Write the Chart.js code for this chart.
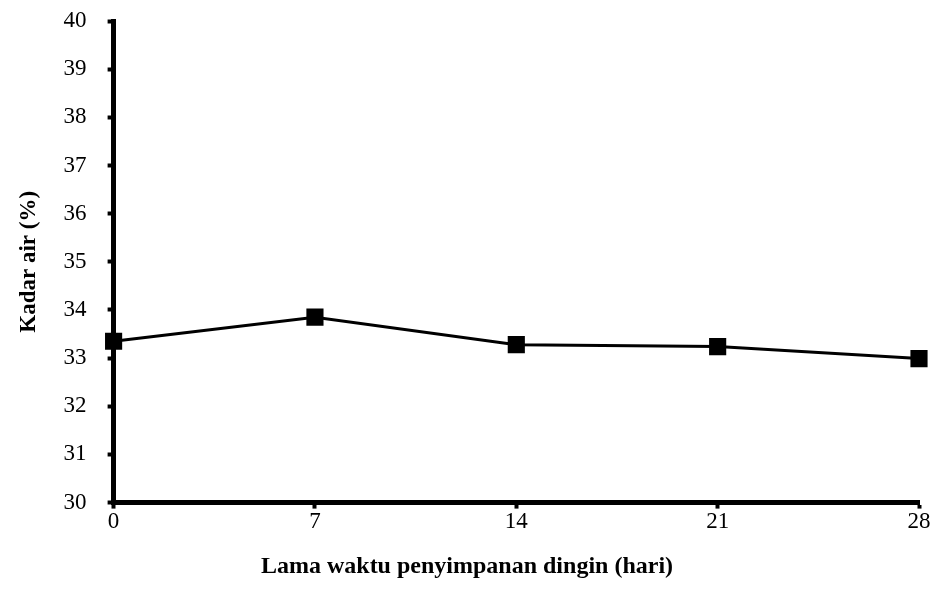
<!DOCTYPE html>
<html>
<head>
<meta charset="utf-8">
<script src="https://cdn.jsdelivr.net/npm/chart.js@4/dist/chart.umd.min.js"></script>
<style>
  html, body { margin: 0; padding: 0; background: #fff; }
  #wrap { width: 935px; height: 610px; }
</style>
</head>
<body>
<div id="wrap"><canvas id="kadarChart"></canvas></div>
<script>
// Lama penyimpanan (hari) dan kadar air (%)
const hari = [0, 7, 14, 21, 28];
const kadarAir = [33.35, 33.85, 33.28, 33.24, 32.99];
const yMin = 30, yMax = 40;

const ctx = document.getElementById('kadarChart').getContext('2d');
const serif = "'Liberation Serif', 'Times New Roman', serif";

const chart = new Chart(ctx, {
  type: 'line',
  data: {
    datasets: [{
      label: 'Kadar air',
      data: hari.map((h, i) => ({ x: h, y: kadarAir[i] })),
      borderColor: '#000',
      backgroundColor: '#000',
      borderWidth: 3,
      pointStyle: 'rect',
      pointRadius: 10,
      pointHoverRadius: 10,
      tension: 0,
      clip: false
    }]
  },
  options: {
    responsive: true,
    maintainAspectRatio: false,
    animation: false,
    layout: { padding: { top: 21, right: 16, left: 15, bottom: 0 } },
    plugins: {
      legend: { display: false },
      tooltip: { enabled: false },
      // judul sumbu X dipusatkan pada lebar kanvas seperti di gambar asli
      title: {
        display: true,
        position: 'bottom',
        text: 'Lama waktu penyimpanan dingin (hari)',
        color: '#000',
        font: { family: serif, size: 24, weight: 'bold' },
        padding: { top: 16, bottom: 29 }
      }
    },
    scales: {
      x: {
        type: 'linear',
        min: 0, max: 28,
        border: { color: '#000', width: 5 },
        grid: { drawOnChartArea: false, drawTicks: true, tickLength: 6, tickWidth: 4, tickColor: '#000' },
        ticks: { stepSize: 7, color: '#000', font: { family: serif, size: 23 }, padding: 0 }
      },
      y: {
        min: yMin, max: yMax,
        border: { color: '#000', width: 5 },
        grid: { drawOnChartArea: false, drawTicks: true, tickLength: 6, tickWidth: 4, tickColor: '#000' },
        ticks: { stepSize: 1, color: '#000', font: { family: serif, size: 23 }, padding: 21 },
        title: { display: true, text: 'Kadar air (%)', color: '#000',
                 font: { family: serif, size: 23, weight: 'bold' }, padding: 0 },
        // padding tick jangan ikut mendorong area grafik ke bawah
        afterFit: (scale) => { scale.paddingTop = 0; scale.paddingBottom = 0; }
      }
    }
  }
});
</script>
</body>
</html>
